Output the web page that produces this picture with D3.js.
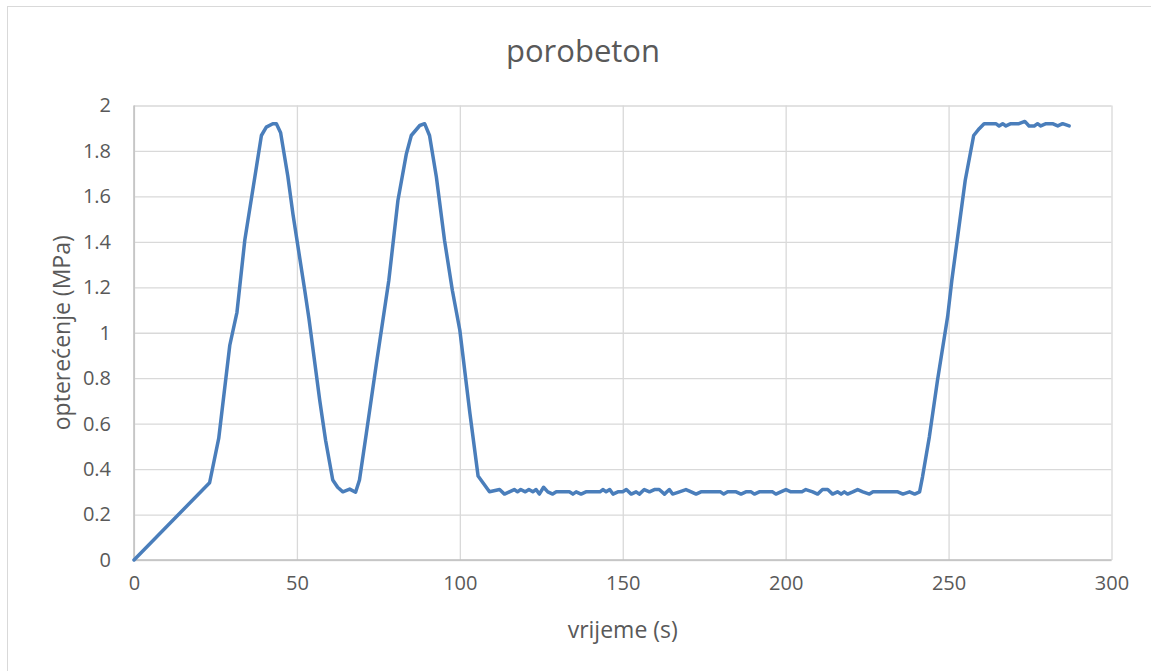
<!DOCTYPE html>
<html>
<head>
<meta charset="utf-8">
<script src="https://cdn.jsdelivr.net/npm/d3@7"></script>
<style>
  body { margin: 0; background: #fff; }
  text { font-family: "Open Sans", "Noto Sans", sans-serif; fill: #595959; }
</style>
</head>
<body>
<svg id="chart" width="1151" height="671"></svg>
<script>
// time (s) and load (MPa)
var times = [0, 23.2, 26.0, 29.4, 31.6, 34.0, 37.0, 39.1, 40.6, 42.6, 43.7, 45.0, 47.2, 48.8,
  52.4, 53.7, 57.0, 58.8, 61.0, 62.5, 64.1, 66.2, 68.0, 69.2, 71.3, 74.4, 78.2, 81.0, 83.6,
  85.1, 87.7, 89.2, 90.7, 92.8, 95.3, 97.7, 100.0, 103.1, 105.6, 109.1,
  112.2, 113.7, 115.2, 116.7, 117.7, 118.7, 120.1, 121.2, 122.4, 123.4, 124.4, 125.7, 127.0,
  128.5, 129.6, 133.6, 134.7, 135.7, 137.2, 138.7, 143.0, 143.9, 144.9, 146.0, 147.0, 148.5,
  150.0, 151.1, 152.6, 154.1, 155.1, 156.6, 158.2, 159.7, 161.2, 162.8, 164.3, 165.3, 167.4,
  169.4, 171.0, 172.5, 174.0, 180.0, 181.0, 182.2, 184.8, 186.3, 187.8, 189.4, 190.4, 191.9,
  196.0, 197.0, 198.5, 200.1, 201.6, 205.0, 206.2, 208.3, 209.8, 211.3, 212.9, 214.4, 215.9,
  217.0, 218.0, 219.0, 220.6, 222.1, 223.7, 225.7, 226.8, 234.4, 236.0, 238.0, 239.6, 241.1,
  242.0, 244.1, 246.6, 249.7, 251.0, 255.1, 257.7, 259.4, 260.9, 263.5, 264.5, 265.5, 266.6,
  267.6, 269.1, 271.6, 273.4, 274.7, 276.3, 277.3, 278.3, 279.9, 281.9, 283.5, 285.0, 287.0];
var loads = [0, 0.34, 0.535, 0.945, 1.09, 1.407, 1.678, 1.868, 1.905, 1.92, 1.92, 1.88, 1.69, 1.52,
  1.187, 1.062, 0.703, 0.527, 0.352, 0.32, 0.30, 0.312, 0.298, 0.352, 0.557, 0.865, 1.23, 1.582, 1.788,
  1.868, 1.912, 1.92, 1.868, 1.685, 1.407, 1.187, 1.011, 0.645, 0.37, 0.30,
  0.31, 0.29, 0.30, 0.31, 0.30, 0.31, 0.30, 0.31, 0.30, 0.31, 0.29, 0.32, 0.30,
  0.29, 0.30, 0.30, 0.29, 0.30, 0.29, 0.30, 0.30, 0.31, 0.30, 0.31, 0.29, 0.30,
  0.30, 0.31, 0.29, 0.30, 0.29, 0.31, 0.30, 0.31, 0.31, 0.29, 0.31, 0.29, 0.30,
  0.31, 0.30, 0.29, 0.30, 0.30, 0.29, 0.30, 0.30, 0.29, 0.30, 0.30, 0.29, 0.30,
  0.30, 0.29, 0.30, 0.31, 0.30, 0.30, 0.31, 0.30, 0.29, 0.31, 0.31, 0.29, 0.30,
  0.29, 0.30, 0.29, 0.30, 0.31, 0.30, 0.29, 0.30, 0.30, 0.29, 0.30, 0.29, 0.30,
  0.366, 0.542, 0.791, 1.07, 1.231, 1.67, 1.868, 1.898, 1.92, 1.92, 1.92, 1.91, 1.92,
  1.91, 1.92, 1.92, 1.93, 1.91, 1.91, 1.92, 1.91, 1.92, 1.92, 1.91, 1.92, 1.91];
var xTicks = [0, 50, 100, 150, 200, 250, 300];
var yTicks = [0, 0.2, 0.4, 0.6, 0.8, 1, 1.2, 1.4, 1.6, 1.8, 2];

var chartTitle = 'porobeton';
var xTitle = 'vrijeme (s)';
var yTitle = 'optere\u0107enje (MPa)';

var svg = d3.select('#chart');
var plot = {left: 134, right: 1111.5, top: 105.5, bottom: 560};

// chart frame
svg.append('rect')
  .attr('x', 7.5).attr('y', 6.5)
  .attr('width', 1160).attr('height', 680)
  .attr('fill', '#fff')
  .attr('stroke', '#d9d9d9');

var x = d3.scaleLinear().domain([0, 300]).range([plot.left, plot.right]);
var y = d3.scaleLinear().domain([0, 2]).range([plot.bottom, plot.top]);

// grid
svg.append('g')
  .attr('transform', 'translate(0,' + plot.bottom + ')')
  .call(d3.axisBottom(x).tickValues(xTicks).tickSize(-(plot.bottom - plot.top)).tickFormat(''))
  .call(function(g) { g.select('.domain').remove(); })
  .selectAll('line').attr('stroke', '#d9d9d9').attr('stroke-width', 1.3);

svg.append('g')
  .attr('transform', 'translate(' + plot.left + ',0)')
  .call(d3.axisLeft(y).tickValues(yTicks).tickSize(-(plot.right - plot.left)).tickFormat(''))
  .call(function(g) { g.select('.domain').remove(); })
  .selectAll('line').attr('stroke', '#d9d9d9').attr('stroke-width', 1.3);

// axis lines
svg.append('line')
  .attr('x1', plot.left).attr('x2', plot.right)
  .attr('y1', plot.bottom).attr('y2', plot.bottom)
  .attr('stroke', '#bfbfbf').attr('stroke-width', 1.5);
svg.append('line')
  .attr('x1', plot.left).attr('x2', plot.left)
  .attr('y1', plot.top).attr('y2', plot.bottom)
  .attr('stroke', '#bfbfbf').attr('stroke-width', 1.5);

// tick labels
var xAxis = svg.append('g')
  .attr('transform', 'translate(0,' + plot.bottom + ')')
  .call(d3.axisBottom(x).tickValues(xTicks).tickSize(0).tickPadding(24).tickFormat(d3.format('d')));
xAxis.select('.domain').remove();
xAxis.selectAll('text')
  .style('font-size', '20px')
  .attr('fill', '#595959')
  .attr('dy', '0.32em');

var yAxis = svg.append('g')
  .attr('transform', 'translate(' + plot.left + ',0)')
  .call(d3.axisLeft(y).tickValues(yTicks).tickSize(0).tickPadding(23).tickFormat(function(d) { return String(+d.toFixed(1)); }));
yAxis.select('.domain').remove();
yAxis.selectAll('text')
  .style('font-size', '20px')
  .attr('fill', '#595959');

// data line
var points = times.map(function(t, i) { return [t, loads[i]]; });
svg.append('path')
  .datum(points)
  .attr('fill', 'none')
  .attr('stroke', '#4a7ebb')
  .attr('stroke-width', 3.5)
  .attr('stroke-linejoin', 'round')
  .attr('stroke-linecap', 'round')
  .attr('d', d3.line().x(function(d) { return x(d[0]); }).y(function(d) { return y(d[1]); }));

// titles
svg.append('text')
  .attr('x', 583).attr('y', 62)
  .attr('text-anchor', 'middle')
  .style('font-size', '31px')
  .text(chartTitle);

svg.append('text')
  .attr('x', (plot.left + plot.right) / 2).attr('y', 638)
  .attr('text-anchor', 'middle')
  .style('font-size', '23px')
  .text(xTitle);

svg.append('text')
  .attr('transform', 'translate(62,' + ((plot.top + plot.bottom) / 2) + ') rotate(-90)')
  .attr('text-anchor', 'middle')
  .attr('dy', '0.35em')
  .style('font-size', '23px')
  .text(yTitle);
</script>
</body>
</html>
